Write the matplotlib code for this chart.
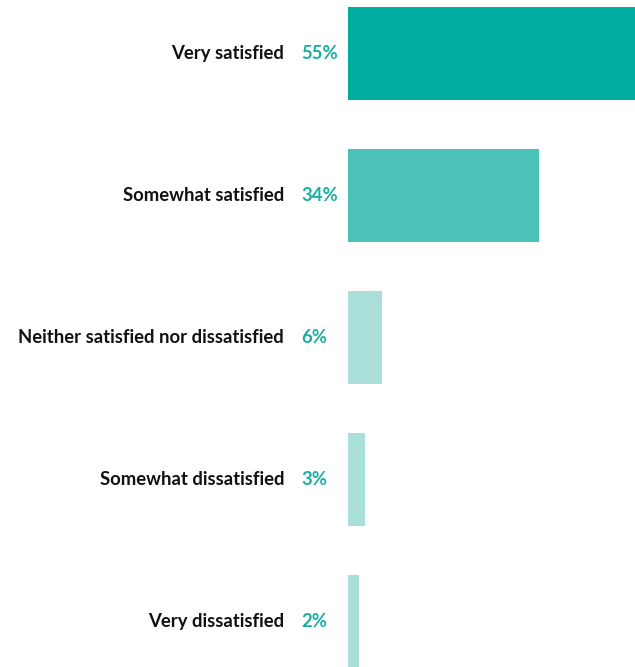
import matplotlib
matplotlib.use("Agg")
import matplotlib.pyplot as plt

categories = ["Very satisfied", "Somewhat satisfied", "Neither satisfied nor dissatisfied",
              "Somewhat dissatisfied", "Very dissatisfied"]
values = [55, 34, 6, 3, 2]
bar_colors = ["#00ADA0", "#4BC2B8", "#AADFDA", "#AADFDA", "#AADFDA"]
pct_color = "#1AAFA5"

plt.rcParams["font.family"] = ["Lato", "DejaVu Sans"]

fig = plt.figure(figsize=(6.35, 6.67), dpi=100)
ax = fig.add_axes([348 / 635, 0, 1 - 348 / 635, 1])

ypos = list(range(len(categories)))
ax.barh(ypos, values, height=0.655, color=bar_colors)
ax.set_xlim(0, 51.2)
ax.set_ylim(4.323, -0.377)
ax.axis("off")

for y, cat, v in zip(ypos, categories, values):
    ax.annotate(cat, xy=(0, y), xytext=(-64, 0), textcoords="offset pixels",
                ha="right", va="center", fontsize=13.3, fontweight="bold", color="#111111")
    ax.annotate(f"{v}%", xy=(0, y), xytext=(-47, 0), textcoords="offset pixels",
                ha="left", va="center", fontsize=13.3, fontweight="bold", color=pct_color)

fig.savefig("out.png", dpi=100)
